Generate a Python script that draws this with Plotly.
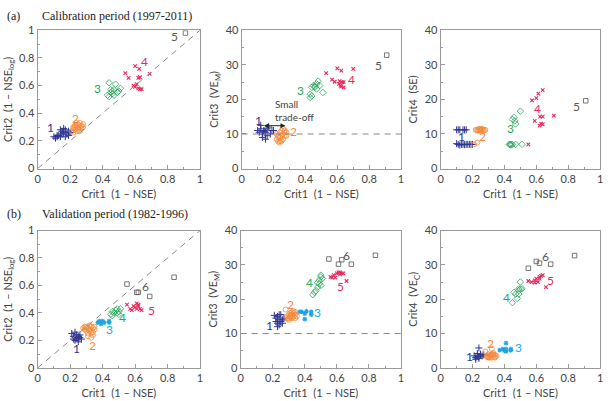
import plotly.graph_objects as go

# ---------------- data ----------------
# (a) Calibration period: Crit1 vs Crit2 (1-NSE_log)
a1_c1_x = [0.10,0.11,0.12,0.13,0.14,0.14,0.15,0.15,0.16,0.16,0.17,0.17,0.18,0.19,0.19,0.12,0.20]
a1_c1_y = [0.23,0.22,0.23,0.24,0.28,0.23,0.27,0.25,0.26,0.29,0.28,0.23,0.25,0.24,0.27,0.24,0.26]
a1_c2_x = [0.21,0.22,0.22,0.23,0.23,0.24,0.24,0.25,0.25,0.25,0.26,0.26,0.27,0.27,0.28,0.23,0.24,0.26,0.28,0.22]
a1_c2_y = [0.27,0.26,0.29,0.28,0.30,0.27,0.31,0.29,0.32,0.28,0.30,0.33,0.31,0.29,0.30,0.31,0.33,0.27,0.32,0.30]
a1_c3_x = [0.43,0.44,0.44,0.45,0.46,0.46,0.47,0.47,0.48,0.49,0.50,0.51,0.45]
a1_c3_y = [0.53,0.62,0.52,0.55,0.56,0.54,0.57,0.53,0.61,0.55,0.56,0.58,0.57]
a1_c4_x = [0.54,0.56,0.60,0.59,0.61,0.62,0.62,0.63,0.63,0.64,0.60,0.625,0.69]
a1_c4_y = [0.69,0.655,0.74,0.60,0.61,0.655,0.58,0.66,0.573,0.575,0.59,0.72,0.684]
a1_c5_x = [0.91]
a1_c5_y = [0.98]

# (a) Crit1 vs Crit3 (VE_M)
a2_c1_x = [0.10,0.11,0.12,0.12,0.13,0.13,0.14,0.15,0.15,0.16,0.16,0.17,0.18,0.19,0.20,0.14]
a2_c1_y = [11.0,10.5,11.5,12.5,10.0,9.0,11.0,10.5,8.5,11.5,9.5,12.0,10.0,11.0,11.0,10.8]
a2_c2_x = [0.22,0.22,0.23,0.23,0.24,0.24,0.24,0.25,0.25,0.26,0.26,0.26,0.27,0.27,0.28,0.23,0.25,0.28,0.24,0.27]
a2_c2_y = [8.5,10.0,7.8,9.5,9.0,10.5,8.0,9.5,11.0,10.0,8.5,11.5,9.5,10.5,10.5,9.0,8.0,9.5,7.5,11.0]
a2_c3_x = [0.43,0.43,0.44,0.44,0.45,0.46,0.47,0.47,0.48,0.49,0.51,0.46]
a2_c3_y = [20.5,21.5,23.5,21.0,24.0,23.5,24.5,23.0,25.3,24.0,22.0,23.8]
a2_c4_x = [0.53,0.567,0.584,0.60,0.615,0.625,0.61,0.62,0.625,0.63,0.64,0.64,0.70]
a2_c4_y = [27.6,25.7,25.1,29.0,25.3,28.3,24.5,24.0,23.7,25.0,23.5,25.0,28.8]
a2_c5_x = [0.91]
a2_c5_y = [32.8]

# (a) Crit1 vs Crit4 (SE)
a3_c1_x = [0.10,0.11,0.12,0.14,0.15,0.16,0.10,0.11,0.12,0.13,0.14,0.15,0.16,0.17,0.18,0.19,0.20]
a3_c1_y = [11.2,11.2,11.2,11.2,11.2,11.2,7.2,7.0,6.8,7.0,7.0,6.9,7.0,7.0,7.0,7.0,7.0]
a3_c2_x = [0.22,0.23,0.24,0.24,0.25,0.25,0.26,0.26,0.27,0.28,0.21,0.23,0.23,0.25,0.27]
a3_c2_y = [11.2,11.2,11.0,11.5,11.2,11.0,11.2,11.5,11.2,11.2,7.0,7.5,11.0,11.3,11.0]
a3_c3_x = [0.43,0.435,0.44,0.44,0.45,0.47,0.51,0.46,0.465,0.47,0.45,0.50]
a3_c3_y = [7.0,7.0,7.0,6.8,7.0,7.0,7.0,14.8,13.8,12.9,14.2,16.6]
a3_c4_x = [0.55,0.573,0.60,0.613,0.64,0.59,0.62,0.623,0.64,0.64,0.63,0.71]
a3_c4_y = [7.0,19.7,20.4,21.7,22.7,13.8,12.4,15.0,15.0,12.8,13.0,15.3]
a3_c5_x = [0.91]
a3_c5_y = [19.6]

# (b) Validation period: Crit1 vs Crit2 (1-NSE_log)
b1_c1_x = [0.21,0.22,0.22,0.23,0.23,0.24,0.24,0.25,0.25,0.26,0.26,0.27,0.23,0.25]
b1_c1_y = [0.25,0.21,0.23,0.22,0.20,0.24,0.22,0.21,0.23,0.22,0.24,0.21,0.26,0.19]
b1_c2_x = [0.28,0.29,0.30,0.30,0.31,0.31,0.32,0.32,0.33,0.33,0.34,0.34,0.35,0.35,0.30,0.32,0.34,0.31,0.33,0.29]
b1_c2_y = [0.29,0.28,0.30,0.27,0.29,0.25,0.31,0.28,0.30,0.26,0.29,0.24,0.28,0.30,0.29,0.27,0.26,0.23,0.22,0.30]
b1_c3_x = [0.37,0.38,0.39,0.40,0.41,0.44,0.44]
b1_c3_y = [0.33,0.34,0.32,0.34,0.33,0.34,0.33]
b1_c4_x = [0.45,0.46,0.46,0.47,0.48,0.49,0.49,0.50,0.50,0.51]
b1_c4_y = [0.39,0.38,0.41,0.40,0.42,0.40,0.43,0.41,0.39,0.43]
b1_c5_x = [0.55,0.57,0.58,0.59,0.60,0.61,0.61,0.62,0.63,0.64,0.62]
b1_c5_y = [0.46,0.43,0.42,0.45,0.44,0.47,0.43,0.46,0.43,0.42,0.45]
b1_c6_x = [0.55,0.61,0.62,0.69,0.84]
b1_c6_y = [0.61,0.55,0.55,0.52,0.66]

# (b) Crit1 vs Crit3 (VE_M)
b2_c1_x = [0.21,0.22,0.22,0.23,0.23,0.24,0.24,0.25,0.25,0.26,0.26,0.27,0.23,0.24]
b2_c1_y = [15.3,13.5,14.5,13.0,15.0,12.5,14.0,13.5,15.5,14.0,13.0,14.5,12.0,15.5]
b2_c2_x = [0.28,0.29,0.30,0.30,0.31,0.31,0.32,0.32,0.33,0.33,0.34,0.34,0.35,0.30,0.32,0.33,0.31,0.34,0.29,0.32]
b2_c2_y = [17.0,15.0,14.5,15.5,15.0,16.0,14.5,15.5,16.5,15.0,15.5,14.5,15.0,14.0,16.2,16.0,15.3,16.3,14.5,14.8]
b2_c3_x = [0.37,0.38,0.40,0.40,0.41,0.44,0.44]
b2_c3_y = [16.3,16.3,15.8,14.2,16.5,16.3,15.5]
b2_c4_x = [0.45,0.46,0.47,0.48,0.49,0.49,0.50,0.50,0.51,0.50,0.48]
b2_c4_y = [21.3,22.0,22.5,23.5,24.5,25.5,26.5,27.0,26.0,24.0,24.8]
b2_c5_x = [0.56,0.57,0.58,0.59,0.60,0.61,0.62,0.62,0.63,0.64,0.66]
b2_c5_y = [26.5,26.3,27.0,26.3,27.5,27.8,27.2,27.8,27.5,27.5,25.3]
b2_c6_x = [0.55,0.61,0.63,0.69,0.84]
b2_c6_y = [31.7,30.2,31.5,30.2,32.8]

# (b) Crit1 vs Crit4 (VE_C)
b3_c1_x = [0.21,0.22,0.22,0.23,0.23,0.24,0.24,0.25,0.25,0.26,0.27,0.24]
b3_c1_y = [3.5,3.0,2.5,3.5,4.2,3.2,5.8,4.0,3.8,3.5,3.8,2.8]
b3_c2_x = [0.28,0.29,0.30,0.30,0.31,0.31,0.32,0.32,0.33,0.33,0.34,0.34,0.35,0.30,0.32,0.33,0.31,0.34,0.29,0.32]
b3_c2_y = [4.8,3.5,3.0,4.0,3.5,3.0,5.6,3.8,3.5,4.0,3.2,3.8,3.5,3.2,3.0,4.3,3.8,3.0,3.2,4.0]
b3_c3_x = [0.37,0.39,0.40,0.41,0.41,0.41,0.44,0.44]
b3_c3_y = [5.2,5.5,5.0,5.5,7.2,4.8,5.1,5.5]
b3_c4_x = [0.45,0.46,0.47,0.48,0.49,0.49,0.50,0.50,0.51,0.49]
b3_c4_y = [19.0,22.0,21.5,20.2,21.5,22.5,25.0,23.0,23.0,23.0]
b3_c5_x = [0.55,0.57,0.59,0.59,0.60,0.61,0.62,0.63,0.64,0.66,0.62]
b3_c5_y = [25.3,25.0,24.8,25.5,26.0,25.0,26.0,26.8,27.0,23.5,26.5]
b3_c6_x = [0.55,0.60,0.62,0.69,0.84]
b3_c6_y = [29.0,31.0,30.5,30.2,32.7]

# cluster labels: (text, x, y)
a1_labels = [("1", 0.08, 0.30), ("2", 0.23, 0.365), ("3", 0.37, 0.58), ("4", 0.66, 0.775), ("5", 0.84, 0.955)]
a2_labels = [("1", 0.105, 13.9), ("2", 0.325, 10.8), ("3", 0.37, 22.6), ("4", 0.69, 25.8), ("5", 0.86, 29.8)]
a3_labels = [("1", 0.13, 9.2), ("2", 0.26, 9.2), ("3", 0.44, 11.6), ("4", 0.61, 17.3), ("5", 0.85, 18.0)]
b1_labels = [("1", 0.24, 0.14), ("2", 0.335, 0.165), ("3", 0.44, 0.28), ("4", 0.52, 0.365), ("5", 0.70, 0.42), ("6", 0.665, 0.595)]
b2_labels = [("1", 0.18, 12.4), ("2", 0.31, 18.6), ("3", 0.48, 16.1), ("4", 0.43, 24.8), ("5", 0.62, 23.8), ("6", 0.66, 32.6)]
b3_labels = [("1", 0.18, 3.3), ("2", 0.31, 7.2), ("3", 0.49, 5.8), ("4", 0.41, 20.4), ("5", 0.69, 25.5), ("6", 0.66, 32.5)]

x_title = "Crit1  (1 – NSE)"
y_titles = ["Crit2  (1 – NSE<sub>log</sub>)", "Crit3  (VE<sub>M</sub>)", "Crit4  (SE)",
            "Crit2  (1 – NSE<sub>log</sub>)", "Crit3  (VE<sub>M</sub>)", "Crit4  (VE<sub>C</sub>)"]

# ---------------- styles ----------------
NAVY = "#2e3592"
ORANGE = "#f5883a"
GREEN = "#2aa85c"
RED = "#e8285a"
CYAN = "#1ea5e0"
GRAY = "#555555"

ST = {
    "navy": dict(symbol="cross-thin-open", size=5, color=NAVY, line=dict(color=NAVY, width=1)),
    "orange": dict(symbol="circle-open", size=5, color=ORANGE, line=dict(color=ORANGE, width=0.8)),
    "green": dict(symbol="diamond-open", size=5, color=GREEN, line=dict(color=GREEN, width=0.8)),
    "red": dict(symbol="x-thin-open", size=3.5, color=RED, line=dict(color=RED, width=1.1)),
    "gray": dict(symbol="square-open", size=4.5, color=GRAY, line=dict(color=GRAY, width=0.8)),
    "cyan": dict(symbol="asterisk-open", size=4, color=CYAN, line=dict(color=CYAN, width=1.1)),
}
COLORS = {"navy": NAVY, "orange": ORANGE, "green": GREEN, "red": RED, "gray": GRAY, "cyan": CYAN}

panels = [
    (1, [(a1_c1_x, a1_c1_y, "navy"), (a1_c2_x, a1_c2_y, "orange"), (a1_c3_x, a1_c3_y, "green"),
         (a1_c4_x, a1_c4_y, "red"), (a1_c5_x, a1_c5_y, "gray")], a1_labels, 1),
    (2, [(a2_c1_x, a2_c1_y, "navy"), (a2_c2_x, a2_c2_y, "orange"), (a2_c3_x, a2_c3_y, "green"),
         (a2_c4_x, a2_c4_y, "red"), (a2_c5_x, a2_c5_y, "gray")], a2_labels, 40),
    (3, [(a3_c1_x, a3_c1_y, "navy"), (a3_c2_x, a3_c2_y, "orange"), (a3_c3_x, a3_c3_y, "green"),
         (a3_c4_x, a3_c4_y, "red"), (a3_c5_x, a3_c5_y, "gray")], a3_labels, 40),
    (4, [(b1_c1_x, b1_c1_y, "navy"), (b1_c2_x, b1_c2_y, "orange"), (b1_c3_x, b1_c3_y, "cyan"),
         (b1_c4_x, b1_c4_y, "green"), (b1_c5_x, b1_c5_y, "red"), (b1_c6_x, b1_c6_y, "gray")], b1_labels, 1),
    (5, [(b2_c1_x, b2_c1_y, "navy"), (b2_c2_x, b2_c2_y, "orange"), (b2_c3_x, b2_c3_y, "cyan"),
         (b2_c4_x, b2_c4_y, "green"), (b2_c5_x, b2_c5_y, "red"), (b2_c6_x, b2_c6_y, "gray")], b2_labels, 40),
    (6, [(b3_c1_x, b3_c1_y, "navy"), (b3_c2_x, b3_c2_y, "orange"), (b3_c3_x, b3_c3_y, "cyan"),
         (b3_c4_x, b3_c4_y, "green"), (b3_c5_x, b3_c5_y, "red"), (b3_c6_x, b3_c6_y, "gray")], b3_labels, 40),
]

W, H = 613, 401
xdom_px = {1: (35, 199), 2: (241, 402), 3: (442, 603), 4: (35, 199), 5: (240, 402), 6: (442, 603)}
ydom_px = {1: (24, 167), 2: (24, 167), 3: (24, 167), 4: (231, 373), 5: (231, 373), 6: (231, 373)}

fig = go.Figure()
annotations = []
shapes = []
layout = {}

FONT = "Lato, 'Open Sans', sans-serif"
TICKCOL = "#444444"
FRAME = "#9a9a9a"

for idx, clusters, labels, ymax in panels:
    xa = "x" if idx == 1 else f"x{idx}"
    ya = "y" if idx == 1 else f"y{idx}"
    for cx, cy, st in clusters:
        fig.add_trace(go.Scatter(x=cx, y=cy, mode="markers", xaxis=xa, yaxis=ya,
                                 marker=ST[st], showlegend=False, hoverinfo="skip"))
    for (txt, lx, ly), (_, _, st) in zip(labels, clusters):
        annotations.append(dict(text=txt, x=lx, y=ly, xref=xa, yref=ya, showarrow=False,
                                font=dict(family=FONT, size=12, color=COLORS[st])))
    x0, x1 = xdom_px[idx]
    y0, y1 = ydom_px[idx]
    axkey_x = "xaxis" if idx == 1 else f"xaxis{idx}"
    axkey_y = "yaxis" if idx == 1 else f"yaxis{idx}"
    common = dict(showline=True, linecolor=FRAME, linewidth=1, mirror=True, showgrid=False,
                  zeroline=False, ticks="inside", ticklen=4, tickcolor=FRAME, tickwidth=1,
                  tickfont=dict(family=FONT, size=11, color=TICKCOL))
    layout[axkey_x] = dict(domain=[x0 / W, x1 / W], anchor=ya, range=[0, 1], dtick=0.2, tick0=0,
                           minor=dict(ticks="inside", ticklen=2, tickcolor=FRAME, dtick=0.1),
                           title=dict(text=x_title, font=dict(family=FONT, size=11, color=TICKCOL), standoff=6),
                           **common)
    layout[axkey_y] = dict(domain=[1 - y1 / H, 1 - y0 / H], anchor=xa, range=[0, ymax],
                           dtick=ymax / 5 if ymax == 1 else 10, tick0=0,
                           minor=dict(ticks="inside", ticklen=2, tickcolor=FRAME,
                                      dtick=0.1 if ymax == 1 else 5),
                           title=dict(text=y_titles[idx - 1], font=dict(family=FONT, size=11, color=TICKCOL), standoff=4),
                           **common)
    if ymax == 1:
        shapes.append(dict(type="line", xref=xa, yref=ya, x0=0, y0=0, x1=1, y1=1,
                           line=dict(color="#888888", width=1, dash="6px,5px")))
    elif idx in (2, 5):
        shapes.append(dict(type="line", xref=xa, yref=ya, x0=0, y0=10, x1=1, y1=10,
                           line=dict(color="#888888", width=1, dash="6px,5px")))

# small trade-off annotation in panel (a) Crit3
annotations.append(dict(text="Small<br>trade-off", x=0.197, y=16.9, xref="x2", yref="y2", showarrow=False,
                        xanchor="left", align="left", font=dict(family=FONT, size=10, color="#444444")))
annotations.append(dict(text="", x=0.275, y=12.4, ax=0.13, ay=12.4, xref="x2", yref="y2",
                        axref="x2", ayref="y2", showarrow=True, arrowhead=2, arrowside="end+start",
                        arrowsize=1, arrowwidth=1, arrowcolor="#222222"))

# period titles
SERIF = "'Liberation Serif', 'DejaVu Serif', serif"
for lab, txt, ypx in [("(a)", "Calibration period (1997-2011)", 9), ("(b)", "Validation period (1982-1996)", 214)]:
    annotations.append(dict(text=lab, x=2 / W, y=1 - ypx / H, xref="paper", yref="paper", showarrow=False,
                            xanchor="left", yanchor="middle", font=dict(family=SERIF, size=12, color="#222222")))
    annotations.append(dict(text=txt, x=37 / W, y=1 - ypx / H, xref="paper", yref="paper", showarrow=False,
                            xanchor="left", yanchor="middle", font=dict(family=SERIF, size=12, color="#222222")))

fig.update_layout(width=W, height=H, margin=dict(l=0, r=0, t=0, b=0),
                  paper_bgcolor="white", plot_bgcolor="white",
                  annotations=annotations, shapes=shapes, showlegend=False, **layout)

fig.write_html("out.html")
